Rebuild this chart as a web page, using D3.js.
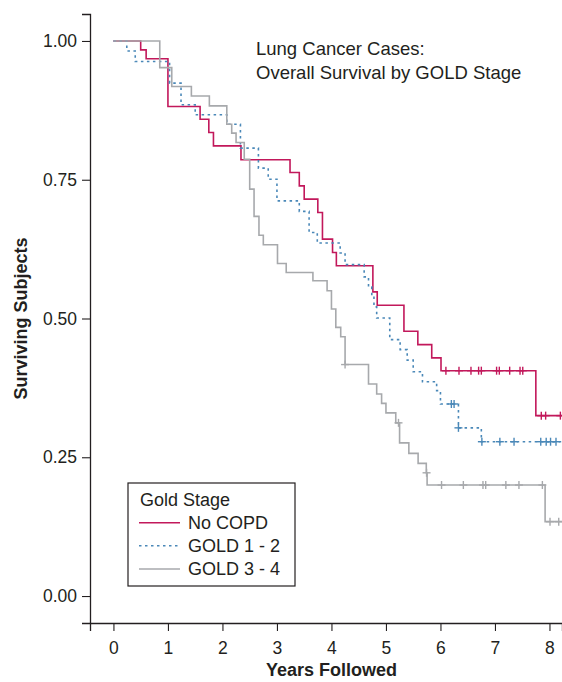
<!DOCTYPE html>
<html>
<head>
<meta charset="utf-8">
<script src="https://cdn.jsdelivr.net/npm/d3@7/dist/d3.min.js"></script>
<style>
  html, body { margin: 0; padding: 0; background: #fff; }
  svg { display: block; font-family: "Liberation Sans", Arial, Helvetica, sans-serif; }
</style>
</head>
<body>
<svg id="chart" width="562" height="682"></svg>
<script>
// ---- Data ----
const xTicks = [0, 1, 2, 3, 4, 5, 6, 7, 8];
const yTicks = [0, 0.25, 0.5, 0.75, 1];
const seriesNames = ["No COPD", "GOLD 1 - 2", "GOLD 3 - 4"];

// No COPD: event times and survival after each event
const noCopdTimes = [0.50, 0.60, 1.00, 1.59, 1.75, 1.835, 2.34, 3.24, 3.41, 3.50, 3.75, 3.835, 4.02, 4.09, 4.76, 4.84, 5.33, 5.585, 5.84, 6.01, 7.75];
const noCopdSurv  = [0.984, 0.968, 0.882, 0.859, 0.835, 0.811, 0.786, 0.763, 0.739, 0.715, 0.691, 0.643, 0.619, 0.595, 0.548, 0.524, 0.477, 0.453, 0.429, 0.406, 0.325];
const noCopdCens  = [6.10, 6.34, 6.56, 6.70, 6.75, 7.03, 7.08, 7.27, 7.46, 7.51, 7.85, 7.93, 8.20];

// GOLD 1 - 2
const gold12Times = [0.245, 0.40, 1.03, 1.24, 1.50, 2.08, 2.33, 2.66, 2.84, 3.00, 3.41, 3.59, 3.74, 4.16, 4.25, 4.60, 4.68, 4.74, 4.78, 4.83, 5.07, 5.26, 5.39, 5.50, 5.67, 5.93, 6.00, 6.33, 6.75];
const gold12Surv  = [0.982, 0.963, 0.924, 0.885, 0.867, 0.850, 0.807, 0.771, 0.751, 0.712, 0.693, 0.655, 0.636, 0.618, 0.597, 0.575, 0.557, 0.540, 0.521, 0.501, 0.462, 0.444, 0.425, 0.404, 0.386, 0.370, 0.346, 0.303, 0.278];
const gold12Cens  = [6.20, 6.25, 6.33, 6.76, 7.09, 7.35, 7.84, 7.94, 8.02, 8.12];

// GOLD 3 - 4
const gold34Times = [0.85, 1.07, 1.43, 1.76, 2.08, 2.17, 2.25, 2.40, 2.50, 2.58, 2.67, 2.75, 3.01, 3.17, 3.66, 3.92, 4.00, 4.08, 4.17, 4.25, 4.68, 4.83, 4.92, 5.00, 5.18, 5.25, 5.42, 5.59, 5.74, 5.755, 7.92];
const gold34Surv  = [0.952, 0.918, 0.901, 0.883, 0.850, 0.834, 0.817, 0.787, 0.733, 0.684, 0.650, 0.633, 0.599, 0.583, 0.568, 0.550, 0.517, 0.484, 0.467, 0.417, 0.382, 0.364, 0.347, 0.330, 0.312, 0.276, 0.257, 0.239, 0.222, 0.200, 0.134];
const gold34Cens  = [4.25, 5.23, 5.745, 6.02, 6.42, 6.78, 6.83, 7.20, 7.44, 7.87, 8.01, 8.17];

const titleLines = ["Lung Cancer Cases:", "Overall Survival by GOLD Stage"];
const legendTitle = "Gold Stage";
const xTitle = "Years Followed";
const yTitle = "Surviving Subjects";

// ---- Build ----
const colors = ["#c2185b", "#4a88b8", "#a7a9ac"];
const dashes = [null, "2.5,3.5", null];
const series = [
  { name: seriesNames[0], times: noCopdTimes, surv: noCopdSurv, cens: noCopdCens },
  { name: seriesNames[1], times: gold12Times, surv: gold12Surv, cens: gold12Cens },
  { name: seriesNames[2], times: gold34Times, surv: gold34Surv, cens: gold34Cens }
];

const svg = d3.select("#chart");
const xDomain = [-0.43, 8.23];
const x = d3.scaleLinear().domain(xDomain).range([90, 562]);
const y = d3.scaleLinear().domain([-0.0486, 1.0486]).range([623, 14]);
const ink = "#231f20";

// Axes
const yAxis = d3.axisLeft(y).tickValues(yTicks).tickFormat(d3.format(".2f")).tickSizeOuter(0).tickSize(8).tickPadding(5);
const xAxis = d3.axisBottom(x).tickValues(xTicks).tickFormat(d3.format("d")).tickSizeOuter(0).tickSize(8).tickPadding(6);

const gy = svg.append("g").attr("transform", "translate(90,0)").call(yAxis);
const gx = svg.append("g").attr("transform", "translate(0,623)").call(xAxis);
[gx, gy].forEach(g => {
  g.select(".domain").attr("stroke", ink).attr("stroke-width", 1.3);
  g.selectAll(".tick line").attr("stroke", ink).attr("stroke-width", 1.1);
  g.selectAll(".tick text").attr("fill", ink).style("font-size", "17.5px")
    .style("font-family", "'Liberation Sans', Arial, sans-serif");
});
gx.selectAll(".tick text").attr("dy", "0.95em");

// Axis titles
svg.append("text").attr("x", x(4)).attr("y", 676).attr("text-anchor", "middle")
  .attr("fill", ink).style("font-size", "18px").style("font-weight", "bold").text(xTitle);
svg.append("text").attr("transform", `translate(27,${y(0.5)}) rotate(-90)`).attr("text-anchor", "middle")
  .attr("fill", ink).style("font-size", "18px").style("font-weight", "bold").text(yTitle);

// KM step curves
const line = d3.line().x(d => x(d[0])).y(d => y(d[1])).curve(d3.curveStepAfter);
function survAt(s, t) {
  let v = 1;
  for (let i = 0; i < s.times.length; i++) if (s.times[i] <= t) v = s.surv[i];
  return v;
}
series.forEach((s, i) => {
  const pts = [[0, 1]].concat(s.times.map((t, j) => [t, s.surv[j]]));
  pts.push([xDomain[1], s.surv[s.surv.length - 1]]);
  const g = svg.append("g");
  g.append("path").datum(pts).attr("d", line).attr("fill", "none")
    .attr("stroke", colors[i]).attr("stroke-width", 1.6)
    .attr("stroke-dasharray", dashes[i]);
  // censor marks (+)
  const cg = g.selectAll("g.cens").data(s.cens).enter().append("g")
    .attr("transform", t => `translate(${x(t)},${y(survAt(s, t))})`);
  cg.append("line").attr("x1", 0).attr("x2", 0).attr("y1", -4).attr("y2", 4)
    .attr("stroke", colors[i]).attr("stroke-width", 1.4);
  cg.append("line").attr("x1", -4).attr("x2", 4).attr("y1", 0).attr("y2", 0)
    .attr("stroke", colors[i]).attr("stroke-width", 1.4);
});

// Title
svg.append("text").attr("x", 256).attr("y", 55).attr("fill", ink)
  .style("font-size", "18.5px")
  .selectAll("tspan").data(titleLines).enter().append("tspan")
  .attr("x", 256).attr("dy", (d, i) => i === 0 ? 0 : 24).text(d => d);

// Legend
const lg = svg.append("g");
lg.append("rect").attr("x", 128).attr("y", 483).attr("width", 167).attr("height", 103)
  .attr("fill", "#fff").attr("stroke", ink).attr("stroke-width", 1.2);
lg.append("text").attr("x", 140).attr("y", 506).attr("fill", ink).style("font-size", "18px").text(legendTitle);
const rowsY = [522.7, 545.7, 569];
series.forEach((s, i) => {
  lg.append("line").attr("x1", 139).attr("x2", 180).attr("y1", rowsY[i]).attr("y2", rowsY[i])
    .attr("stroke", colors[i]).attr("stroke-width", 1.6).attr("stroke-dasharray", dashes[i]);
  lg.append("text").attr("x", 188).attr("y", rowsY[i] + 6).attr("fill", ink)
    .style("font-size", "18px").text(s.name);
});
</script>
</body>
</html>
